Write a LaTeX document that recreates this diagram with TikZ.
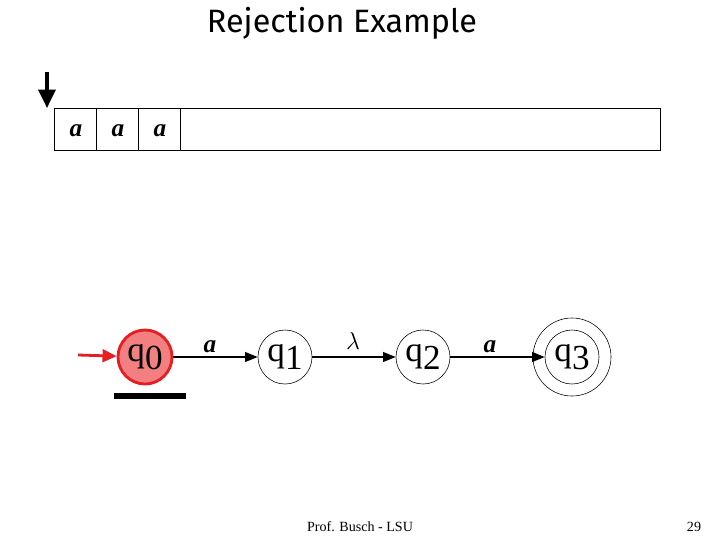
\documentclass[tikz,border=0pt]{standalone}
\usepackage{fontspec}
\setmainfont{Liberation Serif}
\newfontfamily\titlefont{Fira Sans}
\usetikzlibrary{arrows.meta}
\definecolor{statered}{RGB}{230,30,35}
\definecolor{statefill}{RGB}{242,128,128}

\newcommand{\stlabel}[1]{q\raisebox{-6pt}{#1}}

\tikzset{
  state/.style={draw, circle, thin, minimum size=1.35cm, inner sep=0pt,
    font=\fontsize{25}{26}\selectfont},
  current/.style={state, draw=statered, fill=statefill, line width=2pt},
  edge/.style={-{Triangle[length=9pt,width=7pt]}, line width=1pt},
  sym/.style={font=\fontsize{18}{18}\selectfont\bfseries\itshape}
}

\begin{document}
\begin{tikzpicture}[x=0.025cm, y=-0.025cm]
    \useasboundingbox (0, 0) rectangle (720, 540);

    \node (title) at (342, 23) {\titlefont\fontsize{23}{26}\selectfont Rejection Example};

    % tape
    \draw (54, 108) rectangle (660, 150);
    \draw (96, 108) -- (96, 150);
    \draw (138, 108) -- (138, 150);
    \draw (180, 108) -- (180, 150);
    \node[sym] (c1) at (76, 131) {a};
    \node[sym] (c2) at (118, 131) {a};
    \node[sym] (c3) at (160, 131) {a};

    % head
    \coordinate (h1) at (47, 72);
    \coordinate (h2) at (47, 108);
    \draw[line width=2.4pt, -{Triangle[length=13pt,width=12pt]}] (h1) -- (h2);

    % automaton
    \node[current] (q0) at (145, 357) {\stlabel{0}};
    \node[state] (q1) at (285, 357) {\stlabel{1}};
    \node[state] (q2) at (423, 357) {\stlabel{2}};
    \node[state] (q3) at (572, 357) {\stlabel{3}};
    \draw[thin] (q3.center) circle [radius=0.975cm];

    \coordinate (start) at (78, 355);
    \draw[draw=statered, line width=2pt, -{Triangle[length=10pt,width=9pt]}] (start) -- (q0);
    \draw[edge] (q0) -- (q1);
    \draw[edge] (q1) -- (q2);
    \draw[edge] (q2.east) -- (q3.west);

    \node[sym] (l1) at (210, 347) {a};
    \node[font=\fontsize{18}{18}\selectfont] (l2) at (353, 341) {$\lambda$};
    \node[sym] (l3) at (490, 347) {a};

    \coordinate (b1) at (114, 396);
    \coordinate (b2) at (186, 396);
    \draw[line width=4pt] (b1) -- (b2);

    \node (foot) at (360, 527) {\fontsize{10}{12}\selectfont Prof. Busch - LSU};
    \node (page) at (694, 527) {\fontsize{10}{12}\selectfont 29};
\end{tikzpicture}
\end{document}
